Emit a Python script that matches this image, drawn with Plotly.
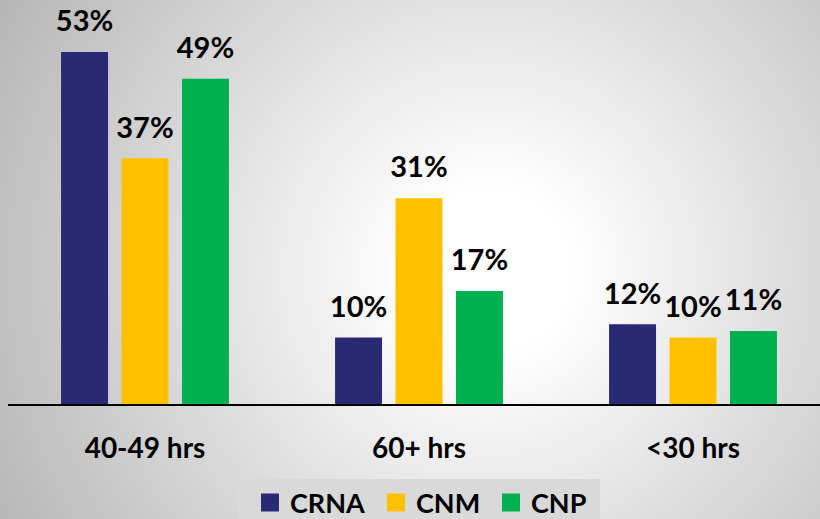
import base64
import plotly.graph_objects as go

categories = ["40-49 hrs", "60+ hrs", "<30 hrs"]
series_names = ["CRNA", "CNM", "CNP"]
crna = [53, 10, 12]
cnm = [37, 31, 10]
cnp = [49, 17, 11]
series_values = [crna, cnm, cnp]
colors = ["#2a2a72", "#ffc000", "#00b050"]
legend_widths = [81, 70, 70]

W, H = 820, 519
L, R, T, B = 8, 0, 10, 115
PW, PH = W - L - R, H - T - B
CAT_PX = 274.0
PX_PER_UNIT = 6.64
FONT = "Lato"

BARGAP = 0.338
BARGROUPGAP = 0.223

fig = go.Figure()
for name, vals, col in zip(series_names, series_values, colors):
    fig.add_trace(go.Bar(
        x=categories, y=vals, name=name, marker=dict(color=col, line=dict(width=0)),
        hoverinfo="skip", showlegend=False,
    ))
for name, vals in zip(series_names, series_values):
    fig.add_trace(go.Scatter(
        x=categories, y=vals, mode="markers+text",
        text=[f"{v}%" for v in vals], textposition="top center",
        textfont=dict(family=FONT, size=29, color="#000000", weight="bold"),
        marker=dict(size=20, color="rgba(0,0,0,0)"),
        showlegend=False, hoverinfo="skip", cliponaxis=False,
    ))
# legend entries (square swatches) on a hidden overlay axis
for name, col, lw in zip(series_names, colors, legend_widths):
    fig.add_trace(go.Scatter(
        x=[None], y=[None], mode="markers", name=name, xaxis="x2", yaxis="y2",
        marker=dict(symbol="square", size=16, color=col, line=dict(width=2, color=col)),
        hoverinfo="skip", legendwidth=lw,
    ))

svg = f'''<svg xmlns="http://www.w3.org/2000/svg" width="{W}" height="{H}" viewBox="0 0 {W} {H}">
<defs><radialGradient id="g" gradientUnits="userSpaceOnUse" cx="490" cy="270" r="570">
<stop offset="0" stop-color="#ffffff"/><stop offset="0.14" stop-color="#ffffff"/>
<stop offset="1" stop-color="#b4b4b4"/></radialGradient></defs>
<rect x="0" y="0" width="{W}" height="{H}" fill="url(#g)"/></svg>'''
src = "data:image/svg+xml;base64," + base64.b64encode(svg.encode()).decode()

def px_x(px):
    return (px - L) / PW

def px_y(py):
    return (H - B - py) / PH

fig.update_layout(
    width=W, height=H,
    margin=dict(l=L, r=R, t=T, b=B, pad=0, autoexpand=False),
    paper_bgcolor="#d0d0d0", plot_bgcolor="rgba(0,0,0,0)",
    barmode="group", bargap=BARGAP, bargroupgap=BARGROUPGAP,
    scattermode="group", scattergap=BARGAP,
    font=dict(family=FONT, color="#000000"),
    images=[dict(source=src, xref="paper", yref="paper", x=px_x(0), y=px_y(0),
                 sizex=W / PW, sizey=H / PH, sizing="stretch", layer="below",
                 xanchor="left", yanchor="top")],
    shapes=[dict(type="rect", xref="paper", yref="paper", x0=px_x(238), x1=px_x(600),
                 y0=px_y(479), y1=px_y(530), fillcolor="#d9d9d9", line=dict(width=0),
                 layer="below")],
    xaxis=dict(
        range=[-0.5, -0.5 + PW / CAT_PX], showline=True, linecolor="#000000", linewidth=2,
        showgrid=False, zeroline=False, ticks="outside", ticklen=18,
        tickcolor="rgba(0,0,0,0)",
        tickfont=dict(family=FONT, size=28, color="#000000", weight="bold"),
        fixedrange=True,
    ),
    yaxis=dict(range=[0, PH / PX_PER_UNIT], visible=False, showgrid=False,
               zeroline=False, fixedrange=True),
    xaxis2=dict(overlaying="x", visible=False, range=[0, 1], fixedrange=True),
    yaxis2=dict(overlaying="y", visible=False, range=[0, 1], fixedrange=True),
    showlegend=True,
    legend=dict(orientation="h", xref="paper", yref="paper", x=px_x(250), y=px_y(503),
                xanchor="left", yanchor="middle", bgcolor="rgba(0,0,0,0)",
                font=dict(family=FONT, size=27, color="#000000", weight="bold"),
                itemclick=False, itemdoubleclick=False, itemsizing="trace"),
)

fig.write_html(
    "out.html",
    config={"displayModeBar": False},
    post_script="document.body.style.margin='0';document.body.style.padding='0';",
)
